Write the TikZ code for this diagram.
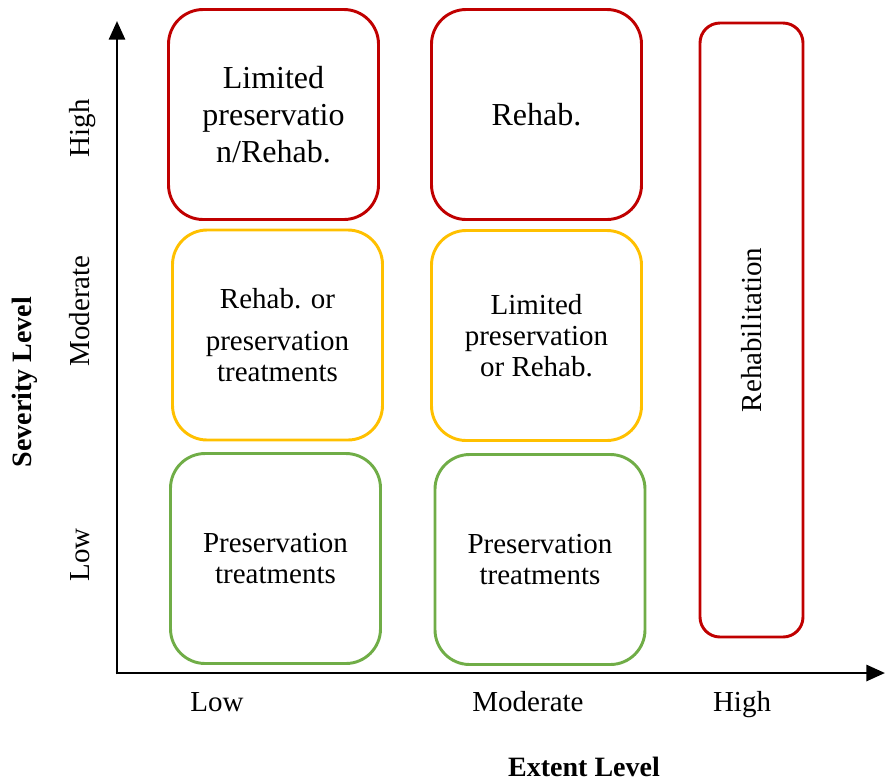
\documentclass[tikz,border=0pt]{standalone}
\usepackage{fontspec}
\setmainfont{Liberation Serif}
\usetikzlibrary{arrows.meta}

\definecolor{boxred}{HTML}{C00000}
\definecolor{boxyellow}{HTML}{FFC000}
\definecolor{boxgreen}{HTML}{70AD47}

\begin{document}
\begin{tikzpicture}[x=0.75pt,y=-0.75pt,
    cell/.style={draw, line width=2.2pt, rounded corners=26pt, align=center,
        minimum width=157.5pt, minimum height=157.5pt, inner sep=0pt,
        font=\fontsize{21.75}{23.5}\selectfont},
    bigcell/.style={cell, font=\fontsize{24}{27.75}\selectfont},
    axis/.style={line width=2.2pt, -{Triangle[length=14pt,width=12pt]}},
    ticklabel/.style={anchor=base, inner sep=0pt, font=\fontsize{21.75}{24}\selectfont},
    axislabel/.style={font=\fontsize{21}{24}\selectfont\bfseries}]

\useasboundingbox (0,0) rectangle (885,783);

\coordinate (origin) at (117,673);
\coordinate (ytip) at (117,21);
\coordinate (xtip) at (885,673);

\draw[axis] ([yshift=-1.1pt]origin) -- (ytip);
\draw[axis] ([xshift=-1.1pt]origin) -- (xtip);

% high severity
\node[bigcell, draw=boxred] (lowhigh) at (273.5,114.5) {Limited\\preservatio\\n/Rehab.};
\node[bigcell, draw=boxred] (modhigh) at (536.5,114.5) {Rehab.};

% moderate severity
\node[cell, draw=boxyellow] (lowmod) at (277.5,335) {Rehab. or\\[8pt]preservation\\treatments};
\node[cell, draw=boxyellow] (modmod) at (536.5,335.5) {Limited\\preservation\\or Rehab.};

% low severity
\node[cell, draw=boxgreen] (lowlow) at (275.5,558.5) {Preservation\\treatments};
\node[cell, draw=boxgreen] (modlow) at (540,559.5) {Preservation\\treatments};

% high extent
\node[cell, draw=boxred, rotate=90, minimum width=460.5pt, minimum height=77.25pt,
    rounded corners=15pt] (highall) at (751.5,330) {Rehabilitation};

\foreach \y/\t in {128/High, 311/Moderate, 555/Low}
    \node[ticklabel, rotate=90] (sev\t) at (89,\y) {\t};

\foreach \x/\t in {217/Low, 528/Moderate, 742/High}
    \node[ticklabel] (ext\t) at (\x,711) {\t};

\node[axislabel, rotate=90] (sevlabel) at (25,382) {Severity Level};
\node[axislabel] (extlabel) at (584,767) {Extent Level};

\end{tikzpicture}
\end{document}
